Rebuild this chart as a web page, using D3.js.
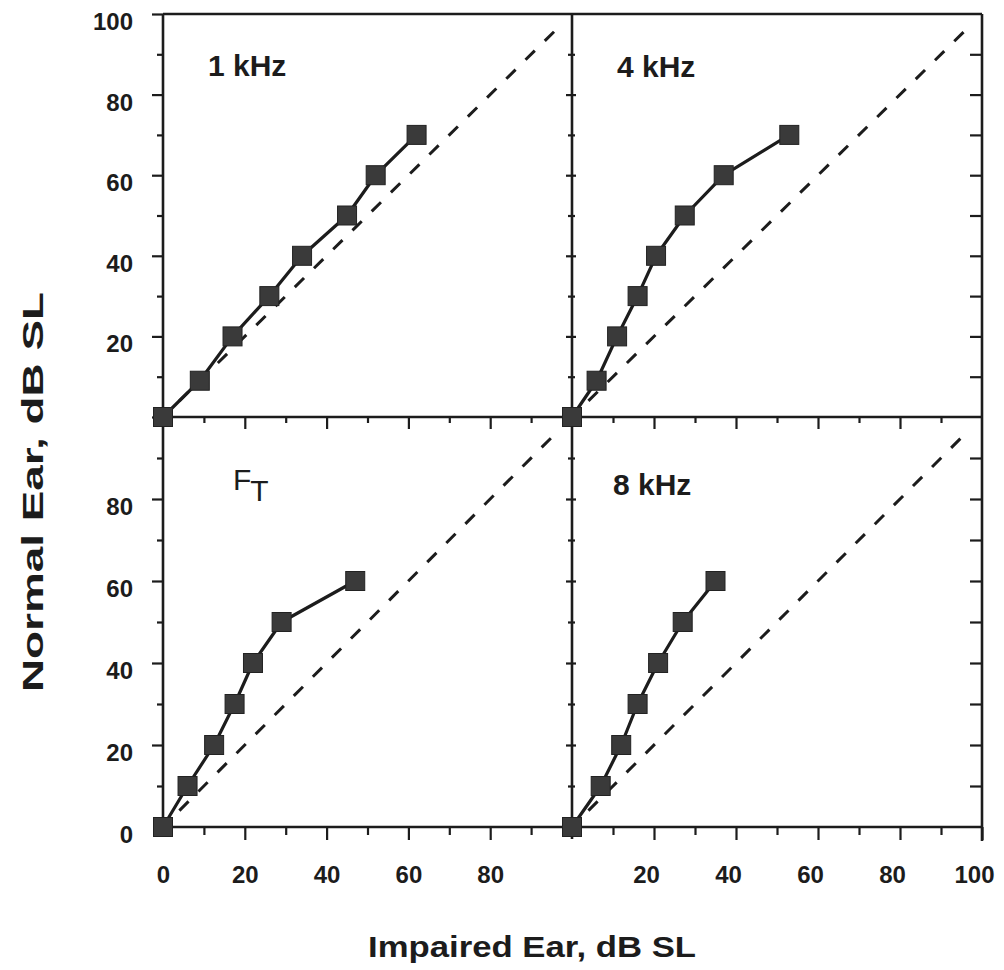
<!DOCTYPE html>
<html>
<head>
<meta charset="utf-8">
<script src="https://cdn.jsdelivr.net/npm/d3@7"></script>
<style>
  html, body { margin: 0; padding: 0; background: #fff; }
  svg { display: block; }
  text { font-family: "Liberation Sans", Arial, Helvetica, sans-serif; fill: #1c1c1c; }
</style>
</head>
<body>
<svg id="chart" width="1004" height="970"></svg>
<script>
// ---------- data ----------
const panelNames = ["1 kHz", "4 kHz", "F_T", "8 kHz"];
const impaired1k = [0, 9, 17, 26, 34, 45, 52, 62];
const normal1k   = [0, 9, 20, 30, 40, 50, 60, 70];
const impaired4k = [0, 6, 11, 16, 20.5, 27.5, 37, 53];
const normal4k   = [0, 9, 20, 30, 40, 50, 60, 70];
const impairedFT = [0, 6, 12.5, 17.5, 22, 29, 47];
const normalFT   = [0, 10, 20, 30, 40, 50, 60];
const impaired8k = [0, 7, 12, 16, 21, 27, 35];
const normal8k   = [0, 10, 20, 30, 40, 50, 60];
const majorTicks = [20, 40, 60, 80, 100];
const minorTicks = [10, 30, 50, 70, 90];
const topYLabels = [20, 40, 60, 80, 100];
const bottomYLabels = [0, 20, 40, 60, 80];
const leftXLabels = [0, 20, 40, 60, 80];
const rightXLabels = [20, 40, 60, 80, 100];
const diagonal = [4, 97];
const xTitle = "Impaired Ear, dB SL";
const yTitle = "Normal Ear, dB SL";

// ---------- layout ----------
const svg = d3.select("#chart");
const INK = "#1c1c1c";
const xLeft  = d3.scaleLinear().domain([0, 100]).range([163, 572]);
const xRight = d3.scaleLinear().domain([0, 100]).range([572, 982]);
const yTop    = d3.scaleLinear().domain([0, 100]).range([417, 14]);
const yBottom = d3.scaleLinear().domain([0, 100]).range([827, 417]);

const panels = [
  {name: panelNames[0], x: xLeft,  y: yTop,    xs: impaired1k, ys: normal1k, lab: [45, 62]},
  {name: panelNames[1], x: xRight, y: yTop,    xs: impaired4k, ys: normal4k, lab: [45, 63]},
  {name: panelNames[2], x: xLeft,  y: yBottom, xs: impairedFT, ys: normalFT, lab: [70, 73]},
  {name: panelNames[3], x: xRight, y: yBottom, xs: impaired8k, ys: normal8k, lab: [41, 78]}
];

function styleAxis(g) {
  g.select(".domain").remove();
  g.selectAll(".tick line").attr("stroke", INK).attr("stroke-width", 2.2);
  g.selectAll("text").attr("font-size", 24).attr("font-weight", "bold").attr("fill", INK)
    .attr("font-family", "Liberation Sans, Arial, sans-serif");
}

// ---------- ticks ----------
// left outer axis (top and bottom rows)
[[yTop, topYLabels], [yBottom, bottomYLabels]].forEach(([ys, labs]) => {
  svg.append("g").attr("transform", `translate(${xLeft(0)},0)`)
    .call(d3.axisLeft(ys).tickValues(majorTicks).tickSize(11).tickFormat(""))
    .call(styleAxis);
  svg.append("g").attr("transform", `translate(${xLeft(0)},0)`)
    .call(d3.axisLeft(ys).tickValues(minorTicks).tickSize(6).tickFormat(""))
    .call(styleAxis);
  const lg = svg.append("g").attr("transform", `translate(${xLeft(0)},0)`)
    .call(d3.axisLeft(ys).tickValues(labs).tickSize(0).tickPadding(30).tickFormat(d3.format("d")))
    .call(styleAxis);
  lg.selectAll("text").attr("dy", null).attr("y", 15.5);
});

// middle vertical axis: ticks crossing both sides
[yTop, yBottom].forEach(ys => {
  svg.append("g").attr("transform", `translate(${xRight(0)},0)`)
    .call(d3.axisLeft(ys).tickValues([20, 40, 60, 80]).tickSize(6).tickFormat(""))
    .call(styleAxis)
    .selectAll(".tick line").attr("x2", -6).attr("x1", 4);
  svg.append("g").attr("transform", `translate(${xRight(0)},0)`)
    .call(d3.axisLeft(ys).tickValues(minorTicks).tickSize(4).tickFormat(""))
    .call(styleAxis)
    .selectAll(".tick line").attr("x2", -4).attr("x1", 3);
});

// right border: inward ticks
[yTop, yBottom].forEach(ys => {
  svg.append("g").attr("transform", `translate(${xRight(100)},0)`)
    .call(d3.axisLeft(ys).tickValues([10, 20, 30, 40, 50, 60, 70, 80, 90]).tickSize(12).tickFormat(""))
    .call(styleAxis);
});

// middle horizontal axis: downward ticks
[xLeft, xRight].forEach(xs => {
  svg.append("g").attr("transform", `translate(0,${yTop(0)})`)
    .call(d3.axisBottom(xs).tickValues([20, 40, 60, 80]).tickSize(12).tickFormat(""))
    .call(styleAxis);
  svg.append("g").attr("transform", `translate(0,${yTop(0)})`)
    .call(d3.axisBottom(xs).tickValues(minorTicks).tickSize(6).tickFormat(""))
    .call(styleAxis);
});

// bottom axis with labels
[[xLeft, leftXLabels, 0, [20, 40, 60, 80]], [xRight, rightXLabels, -8, [20, 40, 60, 80, 100]]].forEach(([xs, labs, shift, maj]) => {
  svg.append("g").attr("transform", `translate(0,${yBottom(0)})`)
    .call(d3.axisBottom(xs).tickValues(maj).tickSize(13).tickFormat(""))
    .call(styleAxis);
  svg.append("g").attr("transform", `translate(0,${yBottom(0)})`)
    .call(d3.axisBottom(xs).tickValues(minorTicks).tickSize(8).tickFormat(""))
    .call(styleAxis);
  const lg = svg.append("g").attr("transform", `translate(0,${yBottom(0)})`)
    .call(d3.axisBottom(xs).tickValues(labs).tickSize(0).tickFormat(d3.format("d")))
    .call(styleAxis);
  lg.selectAll("text").attr("dy", null).attr("y", 56).attr("dx", shift);
});

// ---------- frame ----------
const frame = svg.append("g").attr("stroke", INK).attr("stroke-width", 2.6).attr("fill", "none");
frame.append("line").attr("x1", xLeft(0)).attr("x2", xRight(100)).attr("y1", yTop(100)).attr("y2", yTop(100));
frame.append("line").attr("x1", xLeft(0)).attr("x2", xRight(100)).attr("y1", yTop(0)).attr("y2", yTop(0));
frame.append("line").attr("x1", xLeft(0)).attr("x2", xRight(100)).attr("y1", yBottom(0)).attr("y2", yBottom(0));
frame.append("line").attr("x1", xLeft(0)).attr("x2", xLeft(0)).attr("y1", yTop(100)).attr("y2", yBottom(0));
frame.append("line").attr("x1", xRight(0)).attr("x2", xRight(0)).attr("y1", yTop(100)).attr("y2", yBottom(0) + 12);
frame.append("line").attr("x1", xRight(100)).attr("x2", xRight(100)).attr("y1", yTop(100)).attr("y2", yBottom(0) + 14);

// ---------- panels ----------
const SQ = 19;
panels.forEach(p => {
  const g = svg.append("g");
  // identity (dashed) line
  g.append("line")
    .attr("x1", p.x(diagonal[0])).attr("y1", p.y(diagonal[0]))
    .attr("x2", p.x(diagonal[1])).attr("y2", p.y(diagonal[1]))
    .attr("stroke", INK).attr("stroke-width", 3).attr("stroke-dasharray", "13,14");
  const pts = p.xs.map((v, i) => [v, p.ys[i]]);
  g.append("path")
    .datum(pts)
    .attr("d", d3.line().x(d => p.x(d[0])).y(d => p.y(d[1])))
    .attr("fill", "none").attr("stroke", INK).attr("stroke-width", 3.2).attr("stroke-linejoin", "round");
  g.selectAll("rect").data(pts).join("rect")
    .attr("x", d => p.x(d[0]) - SQ / 2).attr("y", d => p.y(d[1]) - SQ / 2)
    .attr("width", SQ).attr("height", SQ)
    .attr("fill", "#3a3a3a").attr("stroke", "#222").attr("stroke-width", 1);

  const lx = p.x(0) + p.lab[0], ly = p.y(100) + p.lab[1];
  if (p.name === "F_T") {
    const t = g.append("text").attr("x", lx).attr("y", ly).attr("font-size", 30).attr("fill", INK);
    t.append("tspan").text("F");
    t.append("tspan").attr("dy", 11).attr("dx", -1).text("T");
  } else {
    g.append("text").attr("x", lx).attr("y", ly).attr("font-size", 30).attr("font-weight", "bold")
      .attr("fill", INK).text(p.name);
  }
});

// ---------- axis titles ----------
svg.append("text").attr("x", 368).attr("y", 957)
  .attr("font-size", 30).attr("font-weight", "bold").attr("fill", INK)
  .attr("textLength", 328).attr("lengthAdjust", "spacingAndGlyphs")
  .text(xTitle);
svg.append("text")
  .attr("transform", "translate(43,692) rotate(-90)")
  .attr("font-size", 30).attr("font-weight", "bold").attr("fill", INK)
  .attr("textLength", 400).attr("lengthAdjust", "spacingAndGlyphs")
  .text(yTitle);
</script>
</body>
</html>
